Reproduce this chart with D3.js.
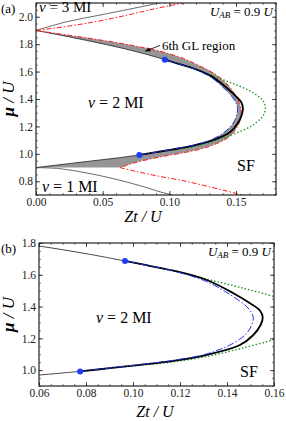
<!DOCTYPE html>
<html>
<head>
<meta charset="utf-8">
<script src="https://cdn.jsdelivr.net/npm/d3@7"></script>
<style>
  body { margin: 0; background: #fff; }
  svg { display: block; font-family: "Liberation Serif", "Times New Roman", serif; }
</style>
</head>
<body>
<svg id="chart" width="286" height="421"></svg>
<script>
// ---- data: [Zt/U, mu/U] ----
const thinUpper = [[0, 1.9], [0.03, 1.843], [0.06, 1.781], [0.08, 1.733], [0.0966, 1.687]];
const thinLower = [[0, 0.9], [0.03, 0.935], [0.06, 0.969], [0.0775, 0.992]];

const blackLobe = [
  [0.0775, 0.992], [0.09, 1.012], [0.103, 1.033], [0.1172, 1.058], [0.1314, 1.096],
  [0.1455, 1.158], [0.1512, 1.221], [0.1543, 1.284], [0.1552, 1.333], [0.154, 1.375],
  [0.1498, 1.421], [0.1427, 1.484], [0.1314, 1.567], [0.1172, 1.626], [0.103, 1.668],
  [0.0966, 1.687]
];
const blueLobe = [
  [0.0775, 0.992], [0.09, 1.013], [0.103, 1.035], [0.1172, 1.062], [0.1314, 1.102],
  [0.1427, 1.169], [0.1484, 1.232], [0.1505, 1.284], [0.1512, 1.326], [0.1505, 1.36],
  [0.1484, 1.399], [0.1427, 1.462], [0.1314, 1.557], [0.1172, 1.624], [0.103, 1.668],
  [0.0966, 1.687]
];
const greenLobe = [
  [0.0775, 0.992], [0.09, 1.011], [0.103, 1.03], [0.1172, 1.052], [0.1314, 1.086],
  [0.1455, 1.135], [0.16, 1.194], [0.166, 1.235], [0.1705, 1.28], [0.172, 1.335],
  [0.1705, 1.385], [0.166, 1.425], [0.16, 1.462], [0.1455, 1.521], [0.1314, 1.572],
  [0.1172, 1.624], [0.103, 1.668], [0.0966, 1.687]
];
// 6th GL outer boundary (red dash-dot), from (0, 1.9) round the tip to the cusp at mu = 0.9
const redLobe = [
  [0, 1.9], [0.03, 1.857], [0.06, 1.812], [0.078, 1.78], [0.0855, 1.766], [0.098, 1.735],
  [0.1105, 1.696], [0.123, 1.64], [0.1355, 1.574], [0.145, 1.49], [0.1505, 1.41],
  [0.1537, 1.33], [0.1535, 1.26], [0.1505, 1.19], [0.145, 1.125], [0.1355, 1.075],
  [0.1235, 1.035], [0.1105, 1.008], [0.1, 0.99], [0.0855, 0.962], [0.072, 0.93], [0.063, 0.9]
];
const redNu1 = [[0.063, 0.9], [0.075, 0.872], [0.093, 0.835], [0.11, 0.805], [0.13, 0.76], [0.155, 0.7], [0.16, 0.688]];
const redNu3 = [[0, 1.9], [0.025, 1.932], [0.048, 1.97], [0.07, 2.015], [0.09, 2.06], [0.11, 2.1], [0.115, 2.112]];
const thinNu1 = [[0, 0.9], [0.018, 0.892], [0.0368, 0.863], [0.0555, 0.825], [0.078, 0.768], [0.093, 0.723], [0.102, 0.699], [0.105, 0.688]];
const thinNu3 = [[0, 1.9], [0.0233, 1.964], [0.048, 2.012], [0.07, 2.055], [0.085, 2.085], [0.092, 2.1], [0.097, 2.112]];

const endDots = [[0.0775, 0.992], [0.0966, 1.687]];
const glArrow = [[0.093, 1.79], [0.082, 1.75]];

const xTicksA = [0, 0.05, 0.1, 0.15];
const yTicksA = [0.8, 1.0, 1.2, 1.4, 1.6, 1.8, 2.0];
const xTicksB = [0.06, 0.08, 0.1, 0.12, 0.14, 0.16];
const yTicksB = [1.0, 1.2, 1.4, 1.6, 1.8];

const svg = d3.select("#chart");

const defs = svg.append("defs");
defs.append("marker")
  .attr("id", "arrowhead")
  .attr("viewBox", "0 0 10 10")
  .attr("refX", 9).attr("refY", 5)
  .attr("markerWidth", 7).attr("markerHeight", 7)
  .attr("orient", "auto")
  .append("path")
  .attr("d", "M0,1 L10,5 L0,9 z")
  .attr("fill", "#000");

function joinPaths(parts) {
  return parts.map((p, i) => (i === 0 ? p : p.replace(/^M/, "L"))).join("") + "Z";
}

function drawPanel(cfg) {
  const x = d3.scaleLinear().domain(cfg.xDomain).range([cfg.left, cfg.right]);
  const y = d3.scaleLinear().domain(cfg.yDomain).range([cfg.bottom, cfg.top]);
  const g = svg.append("g");

  const clipId = "clip-" + cfg.name;
  defs.append("clipPath").attr("id", clipId)
    .append("rect")
    .attr("x", cfg.left).attr("y", cfg.top)
    .attr("width", cfg.right - cfg.left).attr("height", cfg.bottom - cfg.top);

  const line = d3.line().x(d => x(d[0])).y(d => y(d[1])).curve(d3.curveCatmullRom);
  const straight = d3.line().x(d => x(d[0])).y(d => y(d[1]));
  const plot = g.append("g").attr("clip-path", `url(#${clipId})`);

  if (cfg.gl) {
    // shaded 6th GL region: between red outer boundary and the blue / thin inner boundary
    const d = joinPaths([
      line(redLobe),
      straight([[0.063, 0.9], [0, 0.9]]),
      line(thinLower),
      line(blueLobe),
      line(thinUpper.slice().reverse())
    ]);
    plot.append("path").attr("d", d).attr("fill", "#969696").attr("stroke", "none");

    plot.append("path").attr("d", line(thinNu3)).attr("fill", "none").attr("stroke", "#444").attr("stroke-width", 0.8);
    plot.append("path").attr("d", line(thinNu1)).attr("fill", "none").attr("stroke", "#444").attr("stroke-width", 0.8);
  }

  plot.append("path").attr("d", line(thinUpper)).attr("fill", "none").attr("stroke", "#333").attr("stroke-width", 0.9);
  plot.append("path").attr("d", line(thinLower)).attr("fill", "none").attr("stroke", "#333").attr("stroke-width", 0.9);

  plot.append("path").attr("d", line(greenLobe))
    .attr("fill", "none").attr("stroke", "#2a9a2a").attr("stroke-width", 1.6)
    .attr("stroke-dasharray", "0.1,3.4").attr("stroke-linecap", "round");

  if (cfg.gl) {
    [redLobe, redNu1, redNu3].forEach(arr => {
      plot.append("path").attr("d", line(arr))
        .attr("fill", "none").attr("stroke", "#ff1a1a").attr("stroke-width", 1)
        .attr("stroke-dasharray", "5,2,1.5,2");
    });
  }

  plot.append("path").attr("d", line(blackLobe))
    .attr("fill", "none").attr("stroke", "#000").attr("stroke-width", 1.8);

  plot.append("path").attr("d", line(blueLobe))
    .attr("fill", "none").attr("stroke", "#1f2ff0").attr("stroke-width", 1)
    .attr("stroke-dasharray", "7,2,1.5,2");

  plot.selectAll("circle.dot").data(endDots).enter().append("circle")
    .attr("class", "dot")
    .attr("cx", d => x(d[0])).attr("cy", d => y(d[1]))
    .attr("r", 3).attr("fill", "#1f3df0");

  // axes: ticks inside on all four sides
  const fmtX = d3.format(".2f"), fmtY = d3.format(".1f");
  const axes = [
    [d3.axisBottom(x), `translate(0,${cfg.bottom})`, cfg.xTicks, cfg.xMinor, fmtX, true],
    [d3.axisTop(x), `translate(0,${cfg.top})`, cfg.xTicks, cfg.xMinor, fmtX, false],
    [d3.axisLeft(y), `translate(${cfg.left},0)`, cfg.yTicks, cfg.yMinor, fmtY, true],
    [d3.axisRight(y), `translate(${cfg.right},0)`, cfg.yTicks, cfg.yMinor, fmtY, false]
  ];
  axes.forEach(([ax, tr, major, minor, fmt, labels]) => {
    g.append("g").attr("transform", tr)
      .call(ax.tickValues(minor).tickSize(-2).tickFormat(""))
      .call(s => s.select(".domain").remove())
      .call(s => s.selectAll("line").attr("stroke", "#222").attr("stroke-width", 0.6));
    const maj = g.append("g").attr("transform", tr)
      .call(ax.tickValues(major).tickSize(-4).tickPadding(3).tickFormat(labels ? fmt : ""))
      .call(s => s.select(".domain").remove())
      .call(s => s.selectAll("line").attr("stroke", "#222").attr("stroke-width", 0.8));
    maj.selectAll("text").attr("fill", "#222").attr("font-size", 11.5)
      .attr("font-family", "Liberation Serif, Times New Roman, serif");
  });

  g.append("rect")
    .attr("x", cfg.left).attr("y", cfg.top)
    .attr("width", cfg.right - cfg.left).attr("height", cfg.bottom - cfg.top)
    .attr("fill", "none").attr("stroke", "#222").attr("stroke-width", 1.2);

  // axis titles
  const xl = g.append("text")
    .attr("x", cfg.xLabelX).attr("y", cfg.xLabelY)
    .attr("text-anchor", "middle").attr("font-size", 16).attr("font-style", "italic");
  xl.append("tspan").text("Zt");
  xl.append("tspan").text(" / U");

  const yl = g.append("text")
    .attr("transform", `translate(${14},${(cfg.top + cfg.bottom) / 2}) rotate(-90)`)
    .attr("text-anchor", "middle").attr("font-size", 17).attr("font-style", "italic");
  yl.append("tspan").attr("font-weight", "bold").text("μ");
  yl.append("tspan").text(" / U");

  g.append("text").attr("x", 1).attr("y", cfg.top + 10).attr("font-size", 13).text(cfg.name === "a" ? "(a)" : "(b)");

  const ua = g.append("text").attr("x", cfg.right - 3).attr("y", cfg.top + 13)
    .attr("text-anchor", "end").attr("font-size", 13);
  ua.append("tspan").attr("font-style", "italic").text("U");
  ua.append("tspan").attr("font-style", "italic").attr("font-size", 9).attr("dy", 2).text("AB");
  ua.append("tspan").attr("dy", -2).text(" = 0.9 ");
  ua.append("tspan").attr("font-style", "italic").text("U");

  return { g, x, y };
}

// ---- panel (a) ----
const A = drawPanel({
  name: "a", left: 36, right: 276, top: 3, bottom: 195, xLabelX: 143, xLabelY: 222,
  xDomain: [0, 0.18], yDomain: [0.7, 2.1],
  xTicks: xTicksA, xMinor: d3.range(0, 0.181, 0.01),
  yTicks: yTicksA, yMinor: d3.range(0.7, 2.101, 0.05),
  gl: true
});

function label(P, text, px, py, size) {
  const t = P.g.append("text").attr("x", px).attr("y", py).attr("font-size", size);
  t.append("tspan").attr("font-style", "italic").text("ν");
  t.append("tspan").text(text);
}
label(A, " = 3 MI", 39, 12, 15);
label(A, " = 2 MI", 88, 108, 16);
label(A, " = 1 MI", 42, 192, 16);
A.g.append("text").attr("x", 237).attr("y", 171).attr("font-size", 16).text("SF");

A.g.append("line")
  .attr("x1", A.x(glArrow[0][0])).attr("y1", A.y(glArrow[0][1]))
  .attr("x2", A.x(glArrow[1][0])).attr("y2", A.y(glArrow[1][1]))
  .attr("stroke", "#000").attr("stroke-width", 0.8)
  .attr("marker-end", "url(#arrowhead)");
A.g.append("text").attr("x", A.x(glArrow[0][0]) + 2).attr("y", A.y(glArrow[0][1]) + 4)
  .attr("font-size", 13).text("6th GL region");

// ---- panel (b) ----
const B = drawPanel({
  name: "b", left: 39, right: 274, top: 243, bottom: 386, xLabelX: 155, xLabelY: 417,
  xDomain: [0.06, 0.16], yDomain: [0.9, 1.8],
  xTicks: xTicksB, xMinor: d3.range(0.06, 0.1601, 0.005),
  yTicks: yTicksB, yMinor: d3.range(0.9, 1.801, 0.05),
  gl: false
});
label(B, " = 2 MI", 96, 323, 16);
B.g.append("text").attr("x", 240).attr("y", 377).attr("font-size", 16).text("SF");
</script>
</body>
</html>
